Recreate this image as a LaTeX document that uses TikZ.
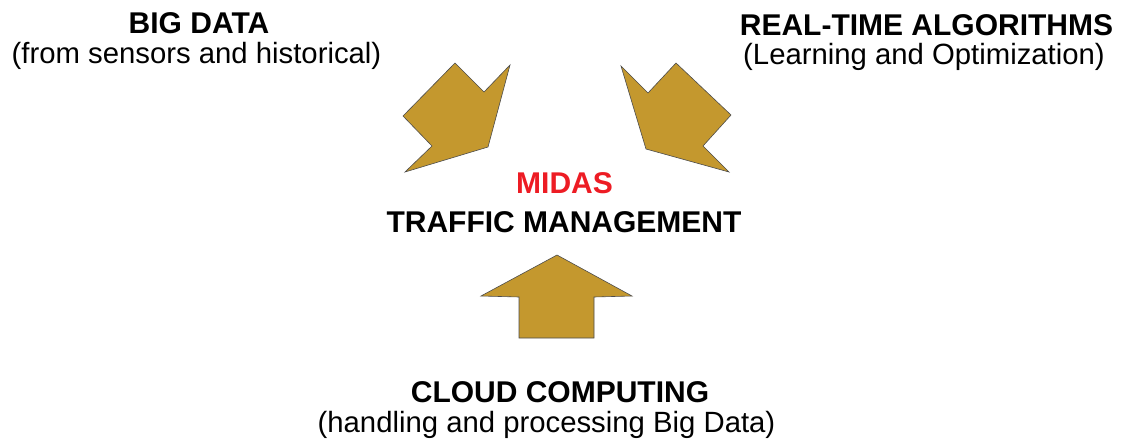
\documentclass[tikz,border=0pt]{standalone}
\usepackage{fontspec}
\setmainfont{Liberation Sans}
\usepackage{tikz}
\usetikzlibrary{arrows}

\definecolor{oro}{RGB}{196,152,46}
\definecolor{rojo}{RGB}{237,28,36}

\tikzset{
  flecha/.style={fill=oro,draw=black!70,line width=0.6pt,line join=miter},
  titulo/.style={anchor=base,inner sep=0pt,font=\fontsize{30}{31}\selectfont\bfseries},
  subtitulo/.style={anchor=base,inner sep=0pt,font=\fontsize{29.3}{30}\selectfont}
}

\begin{document}
\begin{tikzpicture}[x=1pt,y=-1pt]
%marco de la figura
\useasboundingbox (0,0) rectangle (1122,440);

%Flecha de la izquierda
\draw [flecha] (403,116) -- (455,63) -- (484,92) -- (510,65) -- (488,147) -- (405,172) -- (432,146) -- cycle;
%Flecha de la derecha
\draw [flecha] (621,66) -- (648,93) -- (676,63) -- (731,115) -- (703,146) -- (729,172) -- (646,149) -- cycle;
%Flecha de abajo
\draw [flecha] (557,255) -- (632,296) -- (594,297) -- (594,338) -- (519,338) -- (519,297) -- (481,296) -- cycle;

%Textos de arriba a la izquierda
\node [titulo] (bigdata) at (199,33) {BIG DATA};
\node [subtitulo] (sensores) at (196.5,63) {(from sensors and historical)};
%Textos de arriba a la derecha
\node [titulo] (algoritmos) at (926.5,35) {REAL-TIME ALGORITHMS};
\node [subtitulo] (aprendizaje) at (924,64) {(Learning and Optimization)};
%Texto del centro
\node [titulo,text=rojo] (midas) at (564.5,193) {MIDAS};
\node [titulo] (trafico) at (564,232) {TRAFFIC MANAGEMENT};
%Textos de abajo
\node [titulo] (nube) at (560,402) {CLOUD COMPUTING};
\node [subtitulo] (procesado) at (546.5,432) {(handling and processing Big Data)};
\end{tikzpicture}
\end{document}
